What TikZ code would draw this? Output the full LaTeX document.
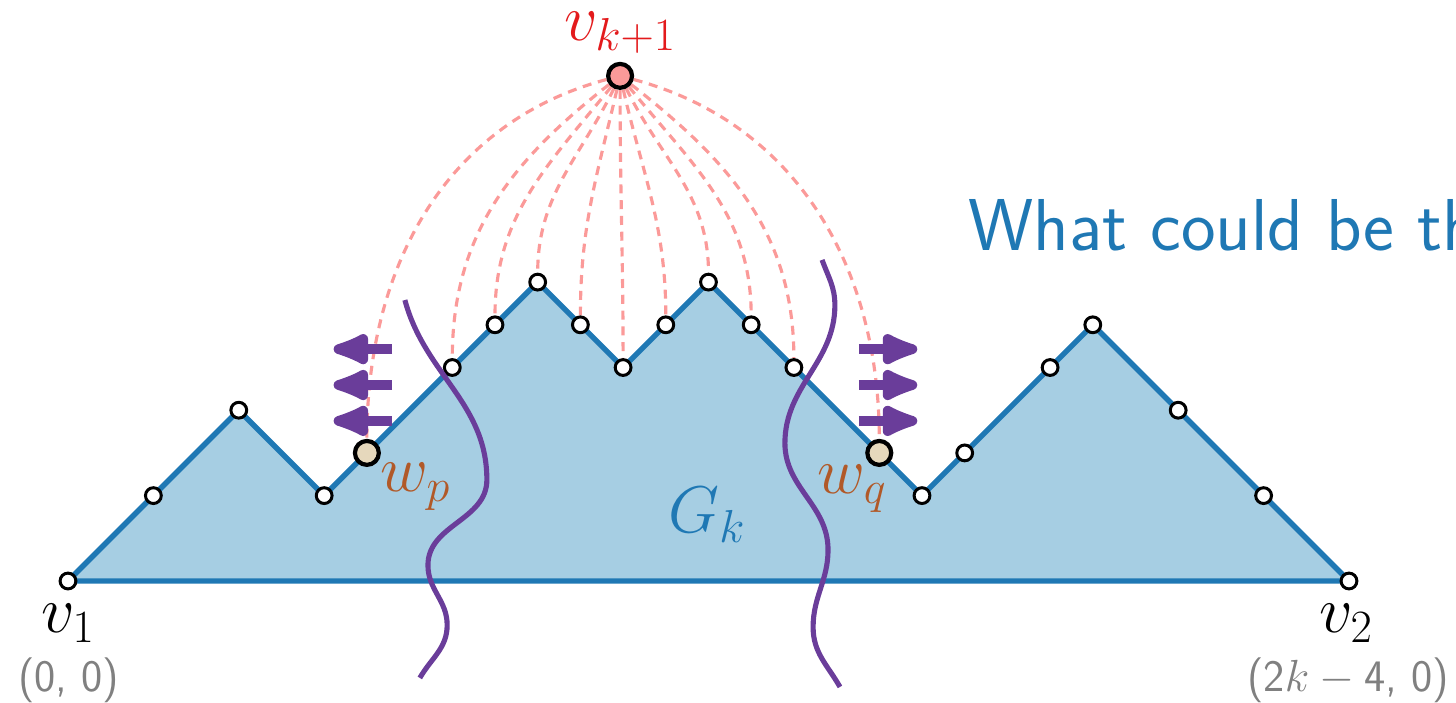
\RequirePackage{fix-cm}
\documentclass[tikz,border=0pt]{standalone}
\usetikzlibrary{arrows.meta,positioning,backgrounds}
\definecolor{regfill}{HTML}{A6CEE3}
\definecolor{regline}{HTML}{1F78B4}
\definecolor{cutcol}{HTML}{6A3D9A}
\definecolor{fancol}{HTML}{FB9A99}
\definecolor{topred}{HTML}{E31A1C}
\definecolor{wfill}{HTML}{E6D8BC}
\definecolor{wtext}{HTML}{B15928}
\tikzset{vtx/.style={circle,draw=black,fill=white,line width=2pt,inner sep=0pt,minimum size=0.37cm},bigvtx/.style={vtx,line width=2.8pt,minimum size=0.56cm},fan/.style={draw=fancol,line width=2.1pt,dash pattern=on 6pt off 4.5pt},cut/.style={draw=cutcol,line width=3.4pt},push/.style={-{Latex[length=33pt,width=25pt,round]},draw=cutcol,line width=6.5pt},mlbl/.style={inner sep=0pt,font=\fontsize{44}{48}\selectfont},coordlbl/.style={inner sep=0pt,text=gray,font=\sffamily\fontsize{30}{33}\selectfont}}

\begin{document}
\begin{tikzpicture}
\useasboundingbox (-1.592,-2.834) rectangle (32.506,13.607);
% boundary of G_k
\node[vtx] (v1) at (0,0) {};
\node[vtx] (a1) at (2,2) {};
\node[vtx] (a2) at (4,4) {};
\node[vtx] (a3) at (6,2) {};
\node[bigvtx,fill=wfill] (wp) at (7,3) {};
\node[vtx] (a4) at (9,5) {};
\node[vtx] (a5) at (10,6) {};
\node[vtx] (a6) at (11,7) {};
\node[vtx] (a7) at (12,6) {};
\node[vtx] (a8) at (13,5) {};
\node[vtx] (a9) at (14,6) {};
\node[vtx] (a10) at (15,7) {};
\node[vtx] (a11) at (16,6) {};
\node[vtx] (a12) at (17,5) {};
\node[bigvtx,fill=wfill] (wq) at (19,3) {};
\node[vtx] (a13) at (20,2) {};
\node[vtx] (a14) at (21,3) {};
\node[vtx] (a15) at (23,5) {};
\node[vtx] (a16) at (24,6) {};
\node[vtx] (a17) at (26,4) {};
\node[vtx] (a18) at (28,2) {};
\node[vtx] (v2) at (30,0) {};
\node[bigvtx,fill=fancol] (vk) at (12.93,11.83) {};
\begin{scope}[on background layer]
\fill[regfill] (v1.center)--(a1.center)--(a2.center)--(a3.center)--(wp.center)--(a4.center)--(a5.center)--(a6.center)--(a7.center)--(a8.center)--(a9.center)--(a10.center)--(a11.center)--(a12.center)--(wq.center)--(a13.center)--(a14.center)--(a15.center)--(a16.center)--(a17.center)--(a18.center)--(v2.center)--cycle;
\draw[regline,line width=3.6pt,line join=round] (v1.center)--(a1.center)--(a2.center)--(a3.center)--(wp.center)--(a4.center)--(a5.center)--(a6.center)--(a7.center)--(a8.center)--(a9.center)--(a10.center)--(a11.center)--(a12.center)--(wq.center)--(a13.center)--(a14.center)--(a15.center)--(a16.center)--(a17.center)--(a18.center)--(v2.center)--cycle;
% edges of v_{k+1}
\draw[fan] (vk) to[out=195,in=90] (wp);
\draw[fan] (vk) to[out=218,in=90] (a4);
\draw[fan] (vk) to[out=231,in=90] (a5);
\draw[fan] (vk) to[out=244,in=90] (a6);
\draw[fan] (vk) to[out=257,in=90] (a7);
\draw[fan] (vk) to[out=270,in=90] (a8);
\draw[fan] (vk) to[out=283,in=90] (a9);
\draw[fan] (vk) to[out=296,in=90] (a10);
\draw[fan] (vk) to[out=309,in=90] (a11);
\draw[fan] (vk) to[out=322,in=90] (a12);
\draw[fan] (vk) to[out=345,in=90] (wq);
\end{scope}
% the two cuts
\draw[cut] (7.89,6.58) to[out=-75,in=90] (9.81,2.37) to[out=-90,in=90] (8.43,0.37) to[out=-90,in=90] (8.88,-1.03) to[out=-90,in=60] (8.24,-2.27);
\draw[cut] (17.66,7.52) to[out=-70,in=90] (17.96,6.46) to[out=-90,in=90] (16.79,3.23) to[out=-90,in=90] (17.80,0.73) to[out=-90,in=90] (17.45,-1.08) to[out=-90,in=120] (18.08,-2.48);
% pushing arrows
\draw[push] (7.59,5.43) -- (6.22,5.43);
\draw[push] (7.59,4.59) -- (6.22,4.59);
\draw[push] (7.59,3.75) -- (6.22,3.75);
\draw[push] (18.52,5.43) -- (19.89,5.43);
\draw[push] (18.52,4.59) -- (19.89,4.59);
\draw[push] (18.52,3.75) -- (19.89,3.75);
% labels
\node[mlbl,text=topred,above=0.18cm of vk] (vklbl) {$v_{k+1}$};
\node[mlbl,text=wtext] (wplbl) at (8.13,2.2) {$w_p$};
\node[mlbl,text=wtext] (wqlbl) at (18.36,2.15) {$w_q$};
\node[mlbl,text=regline] (gklbl) at (14.96,1.55) {$G_k$};
\node[mlbl] (v1lbl) at (0,-1.0) {$v_1$};
\node[mlbl] (v2lbl) at (29.93,-1.0) {$v_2$};
\node[coordlbl] (v1pos) at (0.02,-2.32) {(0, 0)};
\node[coordlbl] (v2pos) at (29.98,-2.32) {(2$k-{}$4, 0)};
\node[inner sep=0pt,anchor=base west,text=regline,font=\sffamily\fontsize{49}{54}\selectfont] (quest) at (21.08,7.73) {What could be th};
\end{tikzpicture}
\end{document}
